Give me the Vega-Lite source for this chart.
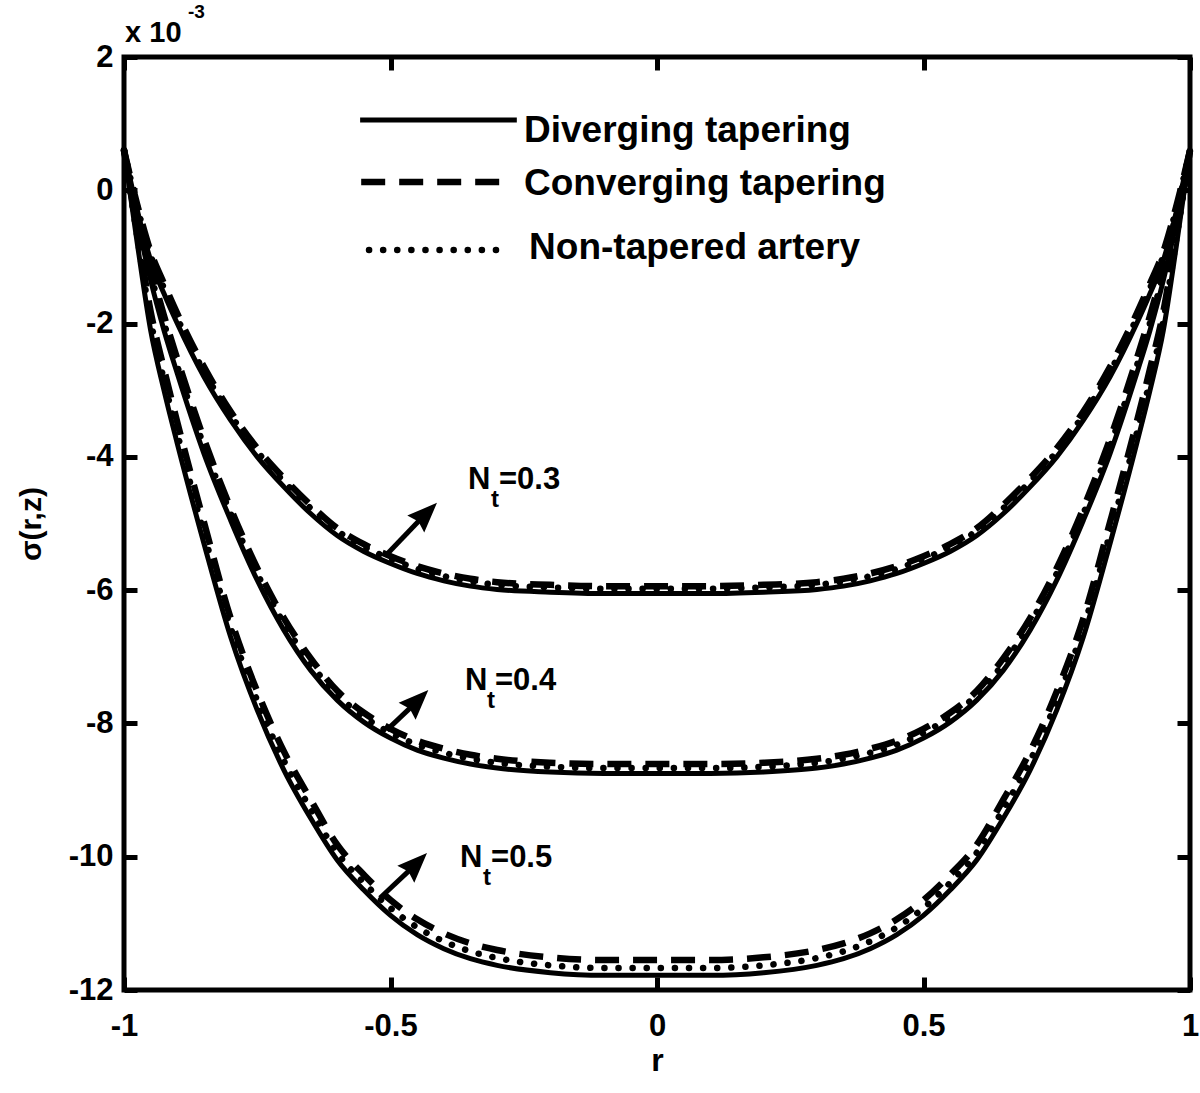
{
  "$schema": "https://vega.github.io/schema/vega-lite/v6.json",
  "width": 1066,
  "height": 933,
  "autosize": "none",
  "padding": {"left": 124, "top": 57, "right": 10, "bottom": 103},
  "background": "white",
  "config": {
    "view": {"stroke": "black", "strokeWidth": 5},
    "font": "Liberation Sans"
  },
  "datasets": {
    "curves": [
      {"t":"D","g":"0.3","r":-1,"v":0.6},{"t":"D","g":"0.3","r":-0.975,"v":-0.3},{"t":"D","g":"0.3","r":-0.95,"v":-1.05},{"t":"D","g":"0.3","r":-0.925,"v":-1.55},{"t":"D","g":"0.3","r":-0.9,"v":-2.0},{"t":"D","g":"0.3","r":-0.85,"v":-2.8},{"t":"D","g":"0.3","r":-0.8,"v":-3.45},{"t":"D","g":"0.3","r":-0.75,"v":-4.0},{"t":"D","g":"0.3","r":-0.7,"v":-4.45},{"t":"D","g":"0.3","r":-0.65,"v":-4.85},{"t":"D","g":"0.3","r":-0.6,"v":-5.18},{"t":"D","g":"0.3","r":-0.55,"v":-5.42},{"t":"D","g":"0.3","r":-0.5,"v":-5.6},{"t":"D","g":"0.3","r":-0.45,"v":-5.75},{"t":"D","g":"0.3","r":-0.4,"v":-5.86},{"t":"D","g":"0.3","r":-0.35,"v":-5.94},{"t":"D","g":"0.3","r":-0.3,"v":-5.99},{"t":"D","g":"0.3","r":-0.2,"v":-6.03},{"t":"D","g":"0.3","r":-0.1,"v":-6.05},{"t":"D","g":"0.3","r":0,"v":-6.05},{"t":"D","g":"0.3","r":0.1,"v":-6.05},{"t":"D","g":"0.3","r":0.2,"v":-6.03},{"t":"D","g":"0.3","r":0.3,"v":-5.99},{"t":"D","g":"0.3","r":0.35,"v":-5.94},{"t":"D","g":"0.3","r":0.4,"v":-5.86},{"t":"D","g":"0.3","r":0.45,"v":-5.75},{"t":"D","g":"0.3","r":0.5,"v":-5.6},{"t":"D","g":"0.3","r":0.55,"v":-5.42},{"t":"D","g":"0.3","r":0.6,"v":-5.18},{"t":"D","g":"0.3","r":0.65,"v":-4.85},{"t":"D","g":"0.3","r":0.7,"v":-4.45},{"t":"D","g":"0.3","r":0.75,"v":-4.0},{"t":"D","g":"0.3","r":0.8,"v":-3.45},{"t":"D","g":"0.3","r":0.85,"v":-2.8},{"t":"D","g":"0.3","r":0.9,"v":-2.0},{"t":"D","g":"0.3","r":0.925,"v":-1.55},{"t":"D","g":"0.3","r":0.95,"v":-1.05},{"t":"D","g":"0.3","r":0.975,"v":-0.3},{"t":"D","g":"0.3","r":1,"v":0.6},

      {"t":"C","g":"0.3","r":-1,"v":0.6},{"t":"C","g":"0.3","r":-0.975,"v":-0.22},{"t":"C","g":"0.3","r":-0.95,"v":-0.92},{"t":"C","g":"0.3","r":-0.925,"v":-1.4},{"t":"C","g":"0.3","r":-0.9,"v":-1.85},{"t":"C","g":"0.3","r":-0.85,"v":-2.65},{"t":"C","g":"0.3","r":-0.8,"v":-3.32},{"t":"C","g":"0.3","r":-0.75,"v":-3.87},{"t":"C","g":"0.3","r":-0.7,"v":-4.32},{"t":"C","g":"0.3","r":-0.65,"v":-4.72},{"t":"C","g":"0.3","r":-0.6,"v":-5.07},{"t":"C","g":"0.3","r":-0.55,"v":-5.31},{"t":"C","g":"0.3","r":-0.5,"v":-5.49},{"t":"C","g":"0.3","r":-0.45,"v":-5.64},{"t":"C","g":"0.3","r":-0.4,"v":-5.75},{"t":"C","g":"0.3","r":-0.35,"v":-5.83},{"t":"C","g":"0.3","r":-0.3,"v":-5.88},{"t":"C","g":"0.3","r":-0.2,"v":-5.92},{"t":"C","g":"0.3","r":-0.1,"v":-5.94},{"t":"C","g":"0.3","r":0,"v":-5.94},{"t":"C","g":"0.3","r":0.1,"v":-5.94},{"t":"C","g":"0.3","r":0.2,"v":-5.92},{"t":"C","g":"0.3","r":0.3,"v":-5.88},{"t":"C","g":"0.3","r":0.35,"v":-5.83},{"t":"C","g":"0.3","r":0.4,"v":-5.75},{"t":"C","g":"0.3","r":0.45,"v":-5.64},{"t":"C","g":"0.3","r":0.5,"v":-5.49},{"t":"C","g":"0.3","r":0.55,"v":-5.31},{"t":"C","g":"0.3","r":0.6,"v":-5.07},{"t":"C","g":"0.3","r":0.65,"v":-4.72},{"t":"C","g":"0.3","r":0.7,"v":-4.32},{"t":"C","g":"0.3","r":0.75,"v":-3.87},{"t":"C","g":"0.3","r":0.8,"v":-3.32},{"t":"C","g":"0.3","r":0.85,"v":-2.65},{"t":"C","g":"0.3","r":0.9,"v":-1.85},{"t":"C","g":"0.3","r":0.925,"v":-1.4},{"t":"C","g":"0.3","r":0.95,"v":-0.92},{"t":"C","g":"0.3","r":0.975,"v":-0.22},{"t":"C","g":"0.3","r":1,"v":0.6},

      {"t":"N","g":"0.3","r":-1,"v":0.6},{"t":"N","g":"0.3","r":-0.975,"v":-0.25},{"t":"N","g":"0.3","r":-0.95,"v":-0.98},{"t":"N","g":"0.3","r":-0.925,"v":-1.47},{"t":"N","g":"0.3","r":-0.9,"v":-1.92},{"t":"N","g":"0.3","r":-0.85,"v":-2.72},{"t":"N","g":"0.3","r":-0.8,"v":-3.37},{"t":"N","g":"0.3","r":-0.75,"v":-3.92},{"t":"N","g":"0.3","r":-0.7,"v":-4.37},{"t":"N","g":"0.3","r":-0.65,"v":-4.77},{"t":"N","g":"0.3","r":-0.6,"v":-5.11},{"t":"N","g":"0.3","r":-0.55,"v":-5.35},{"t":"N","g":"0.3","r":-0.5,"v":-5.53},{"t":"N","g":"0.3","r":-0.45,"v":-5.68},{"t":"N","g":"0.3","r":-0.4,"v":-5.79},{"t":"N","g":"0.3","r":-0.35,"v":-5.87},{"t":"N","g":"0.3","r":-0.3,"v":-5.92},{"t":"N","g":"0.3","r":-0.2,"v":-5.96},{"t":"N","g":"0.3","r":-0.1,"v":-5.98},{"t":"N","g":"0.3","r":0,"v":-5.98},{"t":"N","g":"0.3","r":0.1,"v":-5.98},{"t":"N","g":"0.3","r":0.2,"v":-5.96},{"t":"N","g":"0.3","r":0.3,"v":-5.92},{"t":"N","g":"0.3","r":0.35,"v":-5.87},{"t":"N","g":"0.3","r":0.4,"v":-5.79},{"t":"N","g":"0.3","r":0.45,"v":-5.68},{"t":"N","g":"0.3","r":0.5,"v":-5.53},{"t":"N","g":"0.3","r":0.55,"v":-5.35},{"t":"N","g":"0.3","r":0.6,"v":-5.11},{"t":"N","g":"0.3","r":0.65,"v":-4.77},{"t":"N","g":"0.3","r":0.7,"v":-4.37},{"t":"N","g":"0.3","r":0.75,"v":-3.92},{"t":"N","g":"0.3","r":0.8,"v":-3.37},{"t":"N","g":"0.3","r":0.85,"v":-2.72},{"t":"N","g":"0.3","r":0.9,"v":-1.92},{"t":"N","g":"0.3","r":0.925,"v":-1.47},{"t":"N","g":"0.3","r":0.95,"v":-0.98},{"t":"N","g":"0.3","r":0.975,"v":-0.25},{"t":"N","g":"0.3","r":1,"v":0.6},

      {"t":"D","g":"0.4","r":-1,"v":0.6},{"t":"D","g":"0.4","r":-0.975,"v":-0.45},{"t":"D","g":"0.4","r":-0.95,"v":-1.35},{"t":"D","g":"0.4","r":-0.925,"v":-2.1},{"t":"D","g":"0.4","r":-0.9,"v":-2.75},{"t":"D","g":"0.4","r":-0.85,"v":-3.95},{"t":"D","g":"0.4","r":-0.8,"v":-4.95},{"t":"D","g":"0.4","r":-0.75,"v":-5.85},{"t":"D","g":"0.4","r":-0.7,"v":-6.6},{"t":"D","g":"0.4","r":-0.65,"v":-7.2},{"t":"D","g":"0.4","r":-0.6,"v":-7.65},{"t":"D","g":"0.4","r":-0.55,"v":-7.98},{"t":"D","g":"0.4","r":-0.5,"v":-8.22},{"t":"D","g":"0.4","r":-0.45,"v":-8.4},{"t":"D","g":"0.4","r":-0.4,"v":-8.52},{"t":"D","g":"0.4","r":-0.35,"v":-8.61},{"t":"D","g":"0.4","r":-0.3,"v":-8.67},{"t":"D","g":"0.4","r":-0.2,"v":-8.73},{"t":"D","g":"0.4","r":-0.1,"v":-8.75},{"t":"D","g":"0.4","r":0,"v":-8.75},{"t":"D","g":"0.4","r":0.1,"v":-8.75},{"t":"D","g":"0.4","r":0.2,"v":-8.73},{"t":"D","g":"0.4","r":0.3,"v":-8.67},{"t":"D","g":"0.4","r":0.35,"v":-8.61},{"t":"D","g":"0.4","r":0.4,"v":-8.52},{"t":"D","g":"0.4","r":0.45,"v":-8.4},{"t":"D","g":"0.4","r":0.5,"v":-8.22},{"t":"D","g":"0.4","r":0.55,"v":-7.98},{"t":"D","g":"0.4","r":0.6,"v":-7.65},{"t":"D","g":"0.4","r":0.65,"v":-7.2},{"t":"D","g":"0.4","r":0.7,"v":-6.6},{"t":"D","g":"0.4","r":0.75,"v":-5.85},{"t":"D","g":"0.4","r":0.8,"v":-4.95},{"t":"D","g":"0.4","r":0.85,"v":-3.95},{"t":"D","g":"0.4","r":0.9,"v":-2.75},{"t":"D","g":"0.4","r":0.925,"v":-2.1},{"t":"D","g":"0.4","r":0.95,"v":-1.35},{"t":"D","g":"0.4","r":0.975,"v":-0.45},{"t":"D","g":"0.4","r":1,"v":0.6},

      {"t":"C","g":"0.4","r":-1,"v":0.6},{"t":"C","g":"0.4","r":-0.975,"v":-0.33},{"t":"C","g":"0.4","r":-0.95,"v":-1.15},{"t":"C","g":"0.4","r":-0.925,"v":-1.88},{"t":"C","g":"0.4","r":-0.9,"v":-2.53},{"t":"C","g":"0.4","r":-0.85,"v":-3.73},{"t":"C","g":"0.4","r":-0.8,"v":-4.77},{"t":"C","g":"0.4","r":-0.75,"v":-5.67},{"t":"C","g":"0.4","r":-0.7,"v":-6.42},{"t":"C","g":"0.4","r":-0.65,"v":-7.02},{"t":"C","g":"0.4","r":-0.6,"v":-7.51},{"t":"C","g":"0.4","r":-0.55,"v":-7.84},{"t":"C","g":"0.4","r":-0.5,"v":-8.08},{"t":"C","g":"0.4","r":-0.45,"v":-8.26},{"t":"C","g":"0.4","r":-0.4,"v":-8.38},{"t":"C","g":"0.4","r":-0.35,"v":-8.47},{"t":"C","g":"0.4","r":-0.3,"v":-8.53},{"t":"C","g":"0.4","r":-0.2,"v":-8.59},{"t":"C","g":"0.4","r":-0.1,"v":-8.61},{"t":"C","g":"0.4","r":0,"v":-8.61},{"t":"C","g":"0.4","r":0.1,"v":-8.61},{"t":"C","g":"0.4","r":0.2,"v":-8.59},{"t":"C","g":"0.4","r":0.3,"v":-8.53},{"t":"C","g":"0.4","r":0.35,"v":-8.47},{"t":"C","g":"0.4","r":0.4,"v":-8.38},{"t":"C","g":"0.4","r":0.45,"v":-8.26},{"t":"C","g":"0.4","r":0.5,"v":-8.08},{"t":"C","g":"0.4","r":0.55,"v":-7.84},{"t":"C","g":"0.4","r":0.6,"v":-7.51},{"t":"C","g":"0.4","r":0.65,"v":-7.02},{"t":"C","g":"0.4","r":0.7,"v":-6.42},{"t":"C","g":"0.4","r":0.75,"v":-5.67},{"t":"C","g":"0.4","r":0.8,"v":-4.77},{"t":"C","g":"0.4","r":0.85,"v":-3.73},{"t":"C","g":"0.4","r":0.9,"v":-2.53},{"t":"C","g":"0.4","r":0.925,"v":-1.88},{"t":"C","g":"0.4","r":0.95,"v":-1.15},{"t":"C","g":"0.4","r":0.975,"v":-0.33},{"t":"C","g":"0.4","r":1,"v":0.6},

      {"t":"N","g":"0.4","r":-1,"v":0.6},{"t":"N","g":"0.4","r":-0.975,"v":-0.38},{"t":"N","g":"0.4","r":-0.95,"v":-1.25},{"t":"N","g":"0.4","r":-0.925,"v":-1.99},{"t":"N","g":"0.4","r":-0.9,"v":-2.64},{"t":"N","g":"0.4","r":-0.85,"v":-3.84},{"t":"N","g":"0.4","r":-0.8,"v":-4.85},{"t":"N","g":"0.4","r":-0.75,"v":-5.75},{"t":"N","g":"0.4","r":-0.7,"v":-6.5},{"t":"N","g":"0.4","r":-0.65,"v":-7.1},{"t":"N","g":"0.4","r":-0.6,"v":-7.57},{"t":"N","g":"0.4","r":-0.55,"v":-7.9},{"t":"N","g":"0.4","r":-0.5,"v":-8.14},{"t":"N","g":"0.4","r":-0.45,"v":-8.32},{"t":"N","g":"0.4","r":-0.4,"v":-8.44},{"t":"N","g":"0.4","r":-0.35,"v":-8.53},{"t":"N","g":"0.4","r":-0.3,"v":-8.59},{"t":"N","g":"0.4","r":-0.2,"v":-8.65},{"t":"N","g":"0.4","r":-0.1,"v":-8.67},{"t":"N","g":"0.4","r":0,"v":-8.67},{"t":"N","g":"0.4","r":0.1,"v":-8.67},{"t":"N","g":"0.4","r":0.2,"v":-8.65},{"t":"N","g":"0.4","r":0.3,"v":-8.59},{"t":"N","g":"0.4","r":0.35,"v":-8.53},{"t":"N","g":"0.4","r":0.4,"v":-8.44},{"t":"N","g":"0.4","r":0.45,"v":-8.32},{"t":"N","g":"0.4","r":0.5,"v":-8.14},{"t":"N","g":"0.4","r":0.55,"v":-7.9},{"t":"N","g":"0.4","r":0.6,"v":-7.57},{"t":"N","g":"0.4","r":0.65,"v":-7.1},{"t":"N","g":"0.4","r":0.7,"v":-6.5},{"t":"N","g":"0.4","r":0.75,"v":-5.75},{"t":"N","g":"0.4","r":0.8,"v":-4.85},{"t":"N","g":"0.4","r":0.85,"v":-3.84},{"t":"N","g":"0.4","r":0.9,"v":-2.64},{"t":"N","g":"0.4","r":0.925,"v":-1.99},{"t":"N","g":"0.4","r":0.95,"v":-1.25},{"t":"N","g":"0.4","r":0.975,"v":-0.38},{"t":"N","g":"0.4","r":1,"v":0.6},

      {"t":"D","g":"0.5","r":-1,"v":0.6},{"t":"D","g":"0.5","r":-0.975,"v":-0.8},{"t":"D","g":"0.5","r":-0.95,"v":-2.1},{"t":"D","g":"0.5","r":-0.925,"v":-3.0},{"t":"D","g":"0.5","r":-0.9,"v":-3.8},{"t":"D","g":"0.5","r":-0.85,"v":-5.3},{"t":"D","g":"0.5","r":-0.8,"v":-6.7},{"t":"D","g":"0.5","r":-0.75,"v":-7.8},{"t":"D","g":"0.5","r":-0.7,"v":-8.7},{"t":"D","g":"0.5","r":-0.65,"v":-9.42},{"t":"D","g":"0.5","r":-0.6,"v":-10.05},{"t":"D","g":"0.5","r":-0.55,"v":-10.5},{"t":"D","g":"0.5","r":-0.5,"v":-10.88},{"t":"D","g":"0.5","r":-0.45,"v":-11.17},{"t":"D","g":"0.5","r":-0.4,"v":-11.38},{"t":"D","g":"0.5","r":-0.35,"v":-11.53},{"t":"D","g":"0.5","r":-0.3,"v":-11.63},{"t":"D","g":"0.5","r":-0.2,"v":-11.74},{"t":"D","g":"0.5","r":-0.1,"v":-11.78},{"t":"D","g":"0.5","r":0,"v":-11.78},{"t":"D","g":"0.5","r":0.1,"v":-11.78},{"t":"D","g":"0.5","r":0.2,"v":-11.74},{"t":"D","g":"0.5","r":0.3,"v":-11.63},{"t":"D","g":"0.5","r":0.35,"v":-11.53},{"t":"D","g":"0.5","r":0.4,"v":-11.38},{"t":"D","g":"0.5","r":0.45,"v":-11.17},{"t":"D","g":"0.5","r":0.5,"v":-10.88},{"t":"D","g":"0.5","r":0.55,"v":-10.5},{"t":"D","g":"0.5","r":0.6,"v":-10.05},{"t":"D","g":"0.5","r":0.65,"v":-9.42},{"t":"D","g":"0.5","r":0.7,"v":-8.7},{"t":"D","g":"0.5","r":0.75,"v":-7.8},{"t":"D","g":"0.5","r":0.8,"v":-6.7},{"t":"D","g":"0.5","r":0.85,"v":-5.3},{"t":"D","g":"0.5","r":0.9,"v":-3.8},{"t":"D","g":"0.5","r":0.925,"v":-3.0},{"t":"D","g":"0.5","r":0.95,"v":-2.1},{"t":"D","g":"0.5","r":0.975,"v":-0.8},{"t":"D","g":"0.5","r":1,"v":0.6},

      {"t":"C","g":"0.5","r":-1,"v":0.6},{"t":"C","g":"0.5","r":-0.975,"v":-0.62},{"t":"C","g":"0.5","r":-0.95,"v":-1.82},{"t":"C","g":"0.5","r":-0.925,"v":-2.68},{"t":"C","g":"0.5","r":-0.9,"v":-3.48},{"t":"C","g":"0.5","r":-0.85,"v":-4.98},{"t":"C","g":"0.5","r":-0.8,"v":-6.42},{"t":"C","g":"0.5","r":-0.75,"v":-7.52},{"t":"C","g":"0.5","r":-0.7,"v":-8.42},{"t":"C","g":"0.5","r":-0.65,"v":-9.14},{"t":"C","g":"0.5","r":-0.6,"v":-9.82},{"t":"C","g":"0.5","r":-0.55,"v":-10.27},{"t":"C","g":"0.5","r":-0.5,"v":-10.65},{"t":"C","g":"0.5","r":-0.45,"v":-10.94},{"t":"C","g":"0.5","r":-0.4,"v":-11.15},{"t":"C","g":"0.5","r":-0.35,"v":-11.3},{"t":"C","g":"0.5","r":-0.3,"v":-11.4},{"t":"C","g":"0.5","r":-0.2,"v":-11.51},{"t":"C","g":"0.5","r":-0.1,"v":-11.55},{"t":"C","g":"0.5","r":0,"v":-11.55},{"t":"C","g":"0.5","r":0.1,"v":-11.55},{"t":"C","g":"0.5","r":0.2,"v":-11.51},{"t":"C","g":"0.5","r":0.3,"v":-11.4},{"t":"C","g":"0.5","r":0.35,"v":-11.3},{"t":"C","g":"0.5","r":0.4,"v":-11.15},{"t":"C","g":"0.5","r":0.45,"v":-10.94},{"t":"C","g":"0.5","r":0.5,"v":-10.65},{"t":"C","g":"0.5","r":0.55,"v":-10.27},{"t":"C","g":"0.5","r":0.6,"v":-9.82},{"t":"C","g":"0.5","r":0.65,"v":-9.14},{"t":"C","g":"0.5","r":0.7,"v":-8.42},{"t":"C","g":"0.5","r":0.75,"v":-7.52},{"t":"C","g":"0.5","r":0.8,"v":-6.42},{"t":"C","g":"0.5","r":0.85,"v":-4.98},{"t":"C","g":"0.5","r":0.9,"v":-3.48},{"t":"C","g":"0.5","r":0.925,"v":-2.68},{"t":"C","g":"0.5","r":0.95,"v":-1.82},{"t":"C","g":"0.5","r":0.975,"v":-0.62},{"t":"C","g":"0.5","r":1,"v":0.6},

      {"t":"N","g":"0.5","r":-1,"v":0.6},{"t":"N","g":"0.5","r":-0.975,"v":-0.7},{"t":"N","g":"0.5","r":-0.95,"v":-1.95},{"t":"N","g":"0.5","r":-0.925,"v":-2.85},{"t":"N","g":"0.5","r":-0.9,"v":-3.65},{"t":"N","g":"0.5","r":-0.85,"v":-5.15},{"t":"N","g":"0.5","r":-0.8,"v":-6.56},{"t":"N","g":"0.5","r":-0.75,"v":-7.66},{"t":"N","g":"0.5","r":-0.7,"v":-8.56},{"t":"N","g":"0.5","r":-0.65,"v":-9.28},{"t":"N","g":"0.5","r":-0.6,"v":-9.94},{"t":"N","g":"0.5","r":-0.55,"v":-10.39},{"t":"N","g":"0.5","r":-0.5,"v":-10.77},{"t":"N","g":"0.5","r":-0.45,"v":-11.06},{"t":"N","g":"0.5","r":-0.4,"v":-11.27},{"t":"N","g":"0.5","r":-0.35,"v":-11.42},{"t":"N","g":"0.5","r":-0.3,"v":-11.52},{"t":"N","g":"0.5","r":-0.2,"v":-11.63},{"t":"N","g":"0.5","r":-0.1,"v":-11.67},{"t":"N","g":"0.5","r":0,"v":-11.67},{"t":"N","g":"0.5","r":0.1,"v":-11.67},{"t":"N","g":"0.5","r":0.2,"v":-11.63},{"t":"N","g":"0.5","r":0.3,"v":-11.52},{"t":"N","g":"0.5","r":0.35,"v":-11.42},{"t":"N","g":"0.5","r":0.4,"v":-11.27},{"t":"N","g":"0.5","r":0.45,"v":-11.06},{"t":"N","g":"0.5","r":0.5,"v":-10.77},{"t":"N","g":"0.5","r":0.55,"v":-10.39},{"t":"N","g":"0.5","r":0.6,"v":-9.94},{"t":"N","g":"0.5","r":0.65,"v":-9.28},{"t":"N","g":"0.5","r":0.7,"v":-8.56},{"t":"N","g":"0.5","r":0.75,"v":-7.66},{"t":"N","g":"0.5","r":0.8,"v":-6.56},{"t":"N","g":"0.5","r":0.85,"v":-5.15},{"t":"N","g":"0.5","r":0.9,"v":-3.65},{"t":"N","g":"0.5","r":0.925,"v":-2.85},{"t":"N","g":"0.5","r":0.95,"v":-1.95},{"t":"N","g":"0.5","r":0.975,"v":-0.7},{"t":"N","g":"0.5","r":1,"v":0.6},

      {"t":"D","g":"L","r":-0.557,"v":1.055},{"t":"D","g":"L","r":-0.263,"v":1.055},
      {"t":"C","g":"L","r":-0.555,"v":0.124},{"t":"C","g":"L","r":-0.287,"v":0.124},
      {"t":"N","g":"L","r":-0.5403,"v":-0.896},{"t":"N","g":"L","r":-0.287,"v":-0.896}
    ],
    "arrows": [
      {"g":"0.3","r":-0.5103,"v":-5.49,"r2":-0.4393,"v2":-4.9},
      {"g":"0.4","r":-0.507,"v":-8.1,"r2":-0.4555,"v2":-7.71},
      {"g":"0.5","r":-0.5197,"v":-10.62,"r2":-0.458,"v2":-10.157}
    ],
    "heads": [
      {"g":"0.3","r":-0.4128,"v":-4.69},
      {"g":"0.4","r":-0.429,"v":-7.5},
      {"g":"0.5","r":-0.4315,"v":-9.945}
    ],
    "texts": [
      {"k":"leg","s":"Diverging tapering","r":-0.2495,"v":0.724},
      {"k":"leg","s":"Converging tapering","r":-0.2495,"v":-0.071},
      {"k":"leg","s":"Non-tapered artery","r":-0.24,"v":-1.031},
      {"k":"lab","s":"N","r":-0.3546,"v":-4.48},
      {"k":"lab","s":"=0.3","r":-0.2964,"v":-4.48},
      {"k":"sub","s":"t","r":-0.3114,"v":-4.753},
      {"k":"lab","s":"N","r":-0.3602,"v":-7.5},
      {"k":"lab","s":"=0.4","r":-0.304,"v":-7.5},
      {"k":"sub","s":"t","r":-0.319,"v":-7.77},
      {"k":"lab","s":"N","r":-0.3696,"v":-10.155},
      {"k":"lab","s":"=0.5","r":-0.3114,"v":-10.155},
      {"k":"sub","s":"t","r":-0.3265,"v":-10.425},
      {"k":"exp","s":"x 10","r":-0.998,"v":2.23},
      {"k":"sup","s":"-3","r":-0.88,"v":2.58}
    ]
  },
  "layer": [
    {
      "encoding": {
        "x": {
          "field": "r",
          "type": "quantitative",
          "scale": {"domain": [-1, 1], "nice": false, "zero": false},
          "axis": {
            "values": [-1, -0.5, 0, 0.5, 1],
            "labelExpr": "'' + datum.value",
            "title": "r",
            "grid": false,
            "domain": false,
            "tickSize": -13,
            "tickWidth": 5,
            "tickColor": "black",
            "labelFont": "Liberation Sans",
            "labelFontWeight": "bold",
            "labelFontSize": 31,
            "labelColor": "black",
            "labelPadding": 34,
            "labelFlush": false,
            "labelOverlap": false,
            "titleFont": "Liberation Sans",
            "titleFontWeight": "bold",
            "titleFontSize": 32,
            "titleColor": "black",
            "titlePadding": 4
          }
        },
        "y": {
          "field": "v",
          "type": "quantitative",
          "scale": {"domain": [-12, 2], "nice": false, "zero": false},
          "axis": {
            "values": [-12, -10, -8, -6, -4, -2, 0, 2],
            "labelExpr": "'' + datum.value",
            "title": "σ(r,z)",
            "grid": false,
            "domain": false,
            "tickSize": -13,
            "tickWidth": 5,
            "tickColor": "black",
            "labelFont": "Liberation Sans",
            "labelFontWeight": "bold",
            "labelFontSize": 31,
            "labelColor": "black",
            "labelPadding": 24,
            "labelFlush": false,
            "labelOverlap": false,
            "titleFont": "Liberation Sans",
            "titleFontWeight": "bold",
            "titleFontSize": 30,
            "titleColor": "black",
            "titlePadding": 22
          }
        }
      },
      "layer": [
        {
          "data": {"name": "curves"},
          "transform": [{"filter": {"field": "t", "equal": "D"}}],
          "mark": {"type": "line", "color": "black", "strokeWidth": 5, "interpolate": "monotone"},
          "encoding": {"detail": {"field": "g", "type": "nominal"}}
        },
        {
          "data": {"name": "curves"},
          "transform": [{"filter": {"field": "t", "equal": "C"}}],
          "mark": {"type": "line", "color": "black", "strokeWidth": 6.5, "strokeDash": [24, 14], "interpolate": "monotone"},
          "encoding": {"detail": {"field": "g", "type": "nominal"}}
        },
        {
          "data": {"name": "curves"},
          "transform": [{"filter": {"field": "t", "equal": "N"}}],
          "mark": {"type": "line", "color": "black", "strokeWidth": 6.5, "strokeDash": [0.1, 14], "strokeCap": "round", "interpolate": "monotone"},
          "encoding": {"detail": {"field": "g", "type": "nominal"}}
        },
        {
          "data": {"name": "arrows"},
          "mark": {"type": "rule", "color": "black", "strokeWidth": 5},
          "encoding": {
            "x2": {"field": "r2"},
            "y2": {"field": "v2"}
          }
        },
        {
          "data": {"name": "heads"},
          "mark": {"type": "point", "shape": "M0,0L0.8,2L0,1.75L-0.8,2Z", "size": 900, "angle": 45, "filled": true, "color": "black", "opacity": 1, "strokeWidth": 0}
        },
        {
          "data": {"name": "texts"},
          "transform": [{"filter": {"field": "k", "equal": "leg"}}],
          "mark": {"type": "text", "align": "left", "baseline": "alphabetic", "font": "Liberation Sans", "fontWeight": "bold", "fontSize": 37, "color": "black"},
          "encoding": {"text": {"field": "s"}}
        },
        {
          "data": {"name": "texts"},
          "transform": [{"filter": {"field": "k", "equal": "lab"}}],
          "mark": {"type": "text", "align": "left", "baseline": "alphabetic", "font": "Liberation Sans", "fontWeight": "bold", "fontSize": 31, "color": "black"},
          "encoding": {"text": {"field": "s"}}
        },
        {
          "data": {"name": "texts"},
          "transform": [{"filter": {"field": "k", "equal": "sub"}}],
          "mark": {"type": "text", "align": "left", "baseline": "alphabetic", "font": "Liberation Sans", "fontWeight": "bold", "fontSize": 24, "color": "black"},
          "encoding": {"text": {"field": "s"}}
        },
        {
          "data": {"name": "texts"},
          "transform": [{"filter": {"field": "k", "equal": "exp"}}],
          "mark": {"type": "text", "align": "left", "baseline": "alphabetic", "font": "Liberation Sans", "fontWeight": "bold", "fontSize": 29, "color": "black"},
          "encoding": {"text": {"field": "s"}}
        },
        {
          "data": {"name": "texts"},
          "transform": [{"filter": {"field": "k", "equal": "sup"}}],
          "mark": {"type": "text", "align": "left", "baseline": "alphabetic", "font": "Liberation Sans", "fontWeight": "bold", "fontSize": 19, "color": "black"},
          "encoding": {"text": {"field": "s"}}
        }
      ]
    },
    {
      "data": {"name": "heads"},
      "mark": {"type": "point", "opacity": 0},
      "encoding": {
        "x": {
          "field": "r",
          "type": "quantitative",
          "scale": {"domain": [-1, 1], "nice": false, "zero": false},
          "axis": {"orient": "top", "values": [-1, -0.5, 0, 0.5, 1], "labels": false, "title": null, "grid": false, "domain": false, "tickSize": -13, "tickWidth": 5, "tickColor": "black"}
        },
        "y": {
          "field": "v",
          "type": "quantitative",
          "scale": {"domain": [-12, 2], "nice": false, "zero": false},
          "axis": {"orient": "right", "values": [-12, -10, -8, -6, -4, -2, 0, 2], "labels": false, "title": null, "grid": false, "domain": false, "tickSize": -13, "tickWidth": 5, "tickColor": "black"}
        }
      }
    }
  ],
  "resolve": {"axis": {"x": "independent", "y": "independent"}}
}
